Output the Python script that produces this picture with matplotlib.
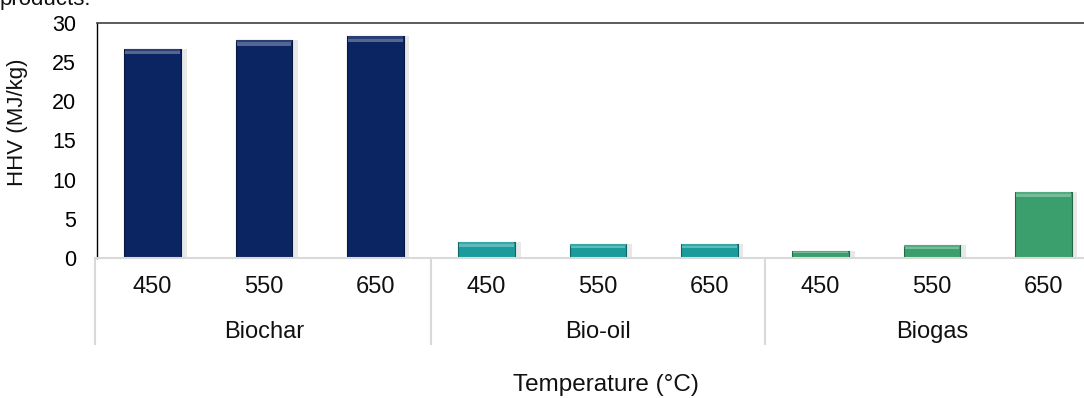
import matplotlib
matplotlib.use("Agg")
import matplotlib.pyplot as plt
import matplotlib.transforms as mtransforms
from matplotlib.colors import to_rgb

plt.rcParams['font.family'] = ['Liberation Sans', 'DejaVu Sans']

# data
groups = ['Biochar', 'Bio-oil', 'Biogas']
temps = ['450', '550', '650']
biochar = [26.7, 27.8, 28.3]
bio_oil = [2.0, 1.8, 1.75]
biogas = [0.9, 1.6, 8.45]
group_colors = ['#0b2462', '#1b9c9c', '#3a9f6d']

values = biochar + bio_oil + biogas
colors = [c for c in group_colors for _ in temps]
labels = temps * len(groups)
xpos = list(range(len(values)))


def shade(c, f):
    r, g, b = to_rgb(c)
    if f > 0:
        return (r + (1 - r) * f, g + (1 - g) * f, b + (1 - b) * f)
    return (r * (1 + f), g * (1 + f), b * (1 + f))


fig = plt.figure(figsize=(10.84, 3.98), dpi=100)
ax = fig.add_axes([97 / 1084, 1 - 258 / 398, (1099 - 97) / 1084, 235 / 398])

w = 0.51
# soft shadow
ax.bar([x + 0.03 for x in xpos], values, width=w + 0.04, color='#e8e8e8', zorder=1)
bars = ax.bar(xpos, values, width=w, color=colors,
              edgecolor=[shade(c, -0.35) for c in colors], linewidth=0.8, zorder=2)
# bevel highlight on top of each bar
for x, v, c in zip(xpos, values, colors):
    h = min(0.7, v * 0.3)
    ax.bar(x, h, bottom=v - h, width=w * 0.96, color=shade(c, 0.3),
           linewidth=0, zorder=3)
    ax.bar(x, h * 0.4, bottom=v - h * 0.4, width=w * 0.98, color=shade(c, 0.12),
           linewidth=0, zorder=3)

ax.set_xlim(-0.5, len(values) - 0.5)
ax.set_ylim(0, 30)
ax.set_yticks(range(0, 31, 5))
ax.tick_params(axis='y', length=0, pad=15, labelsize=15.5)
ax.set_xticks([])

ax.spines['right'].set_visible(False)
ax.spines['top'].set_color('#404040')
ax.spines['top'].set_linewidth(1.2)
ax.spines['left'].set_color('black')
ax.spines['left'].set_linewidth(1.0)
ax.spines['bottom'].set_color('#d9d9d9')
ax.spines['bottom'].set_linewidth(1.5)

trans = mtransforms.blended_transform_factory(ax.transData, ax.transAxes)
for x, lab in zip(xpos, labels):
    ax.text(x, -29 / 235, lab, transform=trans, ha='center', va='center',
            fontsize=17, color='#111111')
n = len(temps)
for i, g in enumerate(groups):
    ax.text(i * n + (n - 1) / 2, -74 / 235, g, transform=trans, ha='center',
            va='center', fontsize=17, color='#111111')
for i in range(len(groups) + 1):
    ax.plot([i * n - 0.5 - (0.02 if i == 0 else 0)] * 2, [0, -86 / 235],
            transform=trans, color='#d9d9d9', lw=1.5, clip_on=False)

fig.text(18 / 1084, 1 - 122 / 398, 'HHV (MJ/kg)', rotation=90, ha='center',
         va='center', fontsize=16, color='#111111')
fig.text(606 / 1084, 1 - 385 / 398, 'Temperature (°C)', ha='center',
         va='center', fontsize=17.5, color='#111111')
fig.text(0.0, 1 - 5 / 398, 'products.', ha='left', va='baseline', fontsize=16,
         color='#111111')

fig.savefig('out.png', dpi=100)
